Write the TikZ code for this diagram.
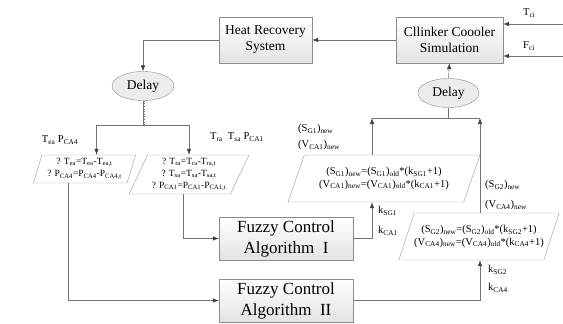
\documentclass[tikz,border=0pt]{standalone}
\usepackage{fontspec}
\setmainfont{Liberation Serif}
\usetikzlibrary{arrows.meta,shapes.geometric}

\begin{document}
\begin{tikzpicture}
[x=1pt,y=-1pt,
 box/.style={rectangle,draw=gray!90,top color=white,bottom color=gray!22,inner sep=0pt,align=center,font=\fontsize{13.5}{16}\selectfont},
 fuzzy/.style={box,minimum width=134pt,minimum height=43pt,font=\fontsize{17}{21}\selectfont},
 delay/.style={ellipse,draw=gray!90,fill=gray!15,inner sep=0pt,minimum width=62pt,minimum height=29pt,font=\fontsize{13.5}{15}\selectfont},
 para/.style={trapezium,trapezium stretches=true,draw=gray!80,fill=white,inner sep=0pt,align=center,font=\fontsize{9.5}{12}\selectfont},
 lbl/.style={inner sep=0pt,font=\fontsize{10.5}{13}\selectfont},
 link/.style={draw=gray!90!black,line width=0.6pt},
 arr/.style={link,-{Latex[length=6pt,width=4.5pt,color=black!75]}}]
\useasboundingbox (0,0) rectangle (563,324);
% blocks
\node[box,minimum width=93pt,minimum height=46pt] (hr) at (265.5,40) {Heat Recovery\\System};
\node[box,minimum width=107pt,minimum height=46pt] (cc) at (449.5,40) {Cllinker Coooler\\Simulation};
\node[delay] (dl) at (143,86) {Delay};
\node[delay,minimum width=61pt] (dr) at (448.5,93) {Delay};
\node[fuzzy] (f1) at (286,238.5) {Fuzzy Control\\Algorithm~ I};
\node[fuzzy] (f2) at (286,300.5) {Fuzzy Control\\Algorithm~ II};
% parallelograms
\node[para,trapezium left angle=70,trapezium right angle=110,minimum width=103pt,minimum height=28pt] (p1) at (84.5,169)
 {? T\textsubscript{ea}=T\textsubscript{ea}-T\textsubscript{ea,t}\\? P\textsubscript{CA4}=P\textsubscript{CA4}-P\textsubscript{CA4,t}};
\node[para,trapezium left angle=63,trapezium right angle=117,minimum width=120pt,minimum height=39pt] (p2) at (189,174.5)
 {? T\textsubscript{ra}=T\textsubscript{ra}-T\textsubscript{ra,t}\\? T\textsubscript{sa}=T\textsubscript{sa}-T\textsubscript{sa,t}\\? P\textsubscript{CA1}=P\textsubscript{CA1}-P\textsubscript{CA1,t}};
\node[para,trapezium left angle=59,trapezium right angle=121,minimum width=192pt,minimum height=47pt,font=\fontsize{10.5}{12.5}\selectfont] (p3) at (384,178.5)
 {(S\textsubscript{G1})\textsubscript{new}=(S\textsubscript{G1})\textsubscript{old}*(k\textsubscript{SG1}+1)\\(V\textsubscript{CA1})\textsubscript{new}=(V\textsubscript{CA1})\textsubscript{old}*(k\textsubscript{CA1}+1)};
\node[para,trapezium left angle=55,trapezium right angle=125,minimum width=158pt,minimum height=47pt,font=\fontsize{10.5}{12.5}\selectfont] (p4) at (479,236.5)
 {(S\textsubscript{G2})\textsubscript{new}=(S\textsubscript{G2})\textsubscript{old}*(k\textsubscript{SG2}+1)\\(V\textsubscript{CA4})\textsubscript{new}=(V\textsubscript{CA4})\textsubscript{old}*(k\textsubscript{CA4}+1)};
% free ends and joints
\coordinate (tin) at (563,24);
\coordinate (fin) at (563,56);
\coordinate (split) at (143,125);
\coordinate (j1) at (372,118);
\coordinate (j2) at (480,118);
% connectors
\draw[arr] (cc.west) -- (hr.east);
\draw[arr] (hr.west) -| (dl.north);
\draw[arr] (tin) -- (tin -| cc.east);
\draw[arr] (fin) -- (fin -| cc.east);
\draw[arr] (dr.north) -- (cc.south);
\draw[link] (dr.south) -- (dr.south |- j1);
\draw[link] (j1) -- (j2);
\draw[arr] (p3.north -| j1) -- (j1);
\draw[arr] (p4.north -| j2) -- (j2);
\draw[arr] (f1.east) -| (p3.south -| j1);
\draw[arr] (f2.east) -| (p4.south -| j2);
\draw[link] (dl.south) -- (split);
\draw[link,dotted,transform canvas={xshift=1.6pt}] (dl.south) -- (split);
\draw[arr] (split) -| ([xshift=12pt]p1.north);
\draw[arr] (split) -| (p2.north);
\draw[arr] ([xshift=-16.5pt]p1.south) |- (f2.west);
\draw[arr] ([xshift=-6pt]p2.south) |- (f1.west);
% labels
\node[lbl] (lea) at (60,140) {T\textsubscript{ea} P\textsubscript{CA4}};
\node[lbl] (lra) at (237,137) {T\textsubscript{ra}~~T\textsubscript{sa} P\textsubscript{CA1}};
\node[lbl,anchor=west] (ls1) at (298,129) {(S\textsubscript{G1})\textsubscript{new}};
\node[lbl,anchor=west] (lv1) at (298,145) {(V\textsubscript{CA1})\textsubscript{new}};
\node[lbl,anchor=west] (lk1) at (378,211) {k\textsubscript{SG1}};
\node[lbl,anchor=west] (lc1) at (378,231) {k\textsubscript{CA1}};
\node[lbl,anchor=west] (ls2) at (485,185) {(S\textsubscript{G2})\textsubscript{new}};
\node[lbl,anchor=west] (lv2) at (485,205) {(V\textsubscript{CA4})\textsubscript{new}};
\node[lbl,anchor=west] (lk2) at (488,270) {k\textsubscript{SG2}};
\node[lbl,anchor=west] (lc2) at (488,288) {k\textsubscript{CA4}};
\node[lbl,anchor=west] (lt) at (523,13) {T\textsubscript{ci}};
\node[lbl,anchor=west] (lf) at (523,46) {F\textsubscript{ci}};
\end{tikzpicture}
\end{document}
